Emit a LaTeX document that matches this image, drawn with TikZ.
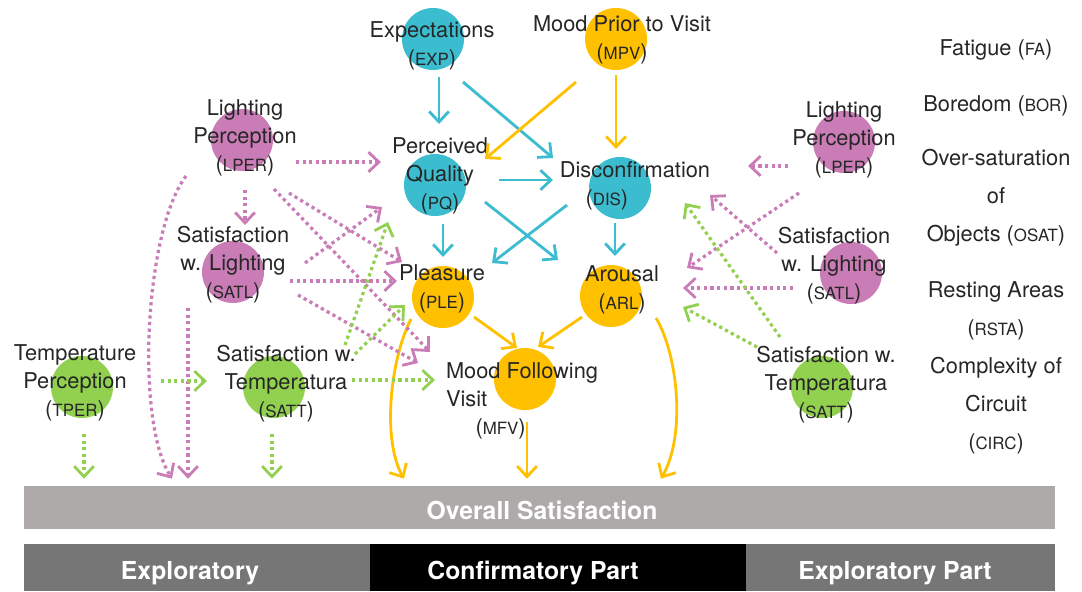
\documentclass[tikz,border=0pt]{standalone}
\usepackage{fontspec}
\setmainfont{TeX Gyre Heros}
\usepackage{tikz}
\usetikzlibrary{arrows.meta,calc,positioning}
\definecolor{confcol}{RGB}{60,188,207}
\definecolor{moodcol}{RGB}{255,192,0}
\definecolor{lightcol}{RGB}{202,124,182}
\definecolor{tempcol}{RGB}{146,208,80}
\definecolor{txtcol}{RGB}{38,38,38}
\definecolor{barcol}{RGB}{174,170,170}
\definecolor{explcol}{RGB}{118,118,118}
\newcommand{\abv}[1]{{\fontsize{12}{12}\selectfont #1}}

\begin{document}
\begin{tikzpicture}[x=0.025cm,y=-0.025cm,font=\fontsize{15.5}{20}\selectfont,text=txtcol,
  var/.style={circle,minimum size=1.55cm,inner sep=0pt},
  lab/.style={align=center,inner sep=0pt},
  list/.style={align=center,inner sep=0pt,font=\fontsize{15.5}{27}\selectfont},
  conn/.style={line width=2pt,-{Straight Barb[length=7.5pt,width=14pt]}},
  dotconn/.style={line width=2.3pt,dash pattern=on 2.3pt off 2.4pt,-{Straight Barb[length=7.5pt,width=14pt,line width=2pt]}},
  bartext/.style={text=white,font=\bfseries\fontsize{17.6}{20}\selectfont}]
\useasboundingbox (0,0) rectangle (1082,591);
% constructs
\node[var,fill=confcol] (exp) at (433,39) {};
\node[var,fill=moodcol] (mpv) at (616,39) {};
\node[var,fill=confcol] (pq) at (435,185) {};
\node[var,fill=confcol] (dis) at (620,188) {};
\node[var,fill=moodcol] (ple) at (443,297) {};
\node[var,fill=moodcol] (arl) at (611,296) {};
\node[var,fill=moodcol] (mfv) at (525,379) {};
\node[var,fill=lightcol] (lper) at (242,140) {};
\node[var,fill=lightcol] (satl) at (233,272) {};
\node[var,fill=tempcol] (tper) at (82,387) {};
\node[var,fill=tempcol] (satt) at (274,387) {};
\node[var,fill=lightcol] (lper-r) at (844,142) {};
\node[var,fill=lightcol] (satl-r) at (851,273) {};
\node[var,fill=tempcol] (satt-r) at (822,387) {};
% names
\node[lab] (exp-l) at (432,46) {Expectations\\(\abv{EXP})};
\node[lab] (mpv-l) at (622,40) {Mood Prior to Visit\\(\abv{MPV})};
\node[lab] (pq-l) at (440,176) {Perceived\\Quality\\(\abv{PQ})};
\node[lab] (dis-l) at (635,186) {Disconfirmation\\\hspace*{-40pt}(\abv{DIS})};
\node[lab] (ple-l) at (442,289) {Pleasure\\(\abv{PLE})};
\node[lab] (arl-l) at (622,290) {Arousal\\(\abv{ARL})};
\node[lab,align=left] (mfv-l) at (522,401) {Mood Following\\Visit\\\hspace*{21pt}(\abv{MFV})};
\node[lab] (lper-l) at (245,138) {Lighting\\Perception\\(\abv{LPER})};
\node[lab] (satl-l) at (233,265) {Satisfaction\\w. Lighting\\(\abv{SATL})};
\node[lab] (tper-l) at (75,383) {Temperature\\Perception\\(\abv{TPER})};
\node[lab] (satt-l) at (286,384) {Satisfaction w.\\Temperatura\\(\abv{SATT})};
\node[lab] (lper-rl) at (844,140) {Lighting\\Perception\\(\abv{LPER})};
\node[lab] (satl-rl) at (834,266) {Satisfaction\\w. Lighting\\(\abv{SATL})};
\node[lab] (satt-rl) at (826,385) {Satisfaction w.\\Temperatura\\(\abv{SATT})};
% not modelled
\node[lab] (fa) at (996,50) {Fatigue (\abv{FA})};
\node[lab] (bor) at (996,106) {Boredom (\abv{BOR})};
\node[list] (osat) at (996,198) {Over-saturation\\of\\Objects (\abv{OSAT})};
\node[list] (rsta) at (996,311) {Resting Areas\\(\abv{RSTA})};
\node[list] (circ) at (996,406) {Complexity of\\Circuit\\(\abv{CIRC})};
% bars
\node[fill=barcol,inner sep=0pt,minimum width=25.775cm,minimum height=1.075cm] (overall) at (539.5,507.5) {};
\node[bartext] (overall-t) at (542,510) {Overall Satisfaction};
\node[fill=explcol,inner sep=0pt,minimum width=8.65cm,minimum height=1.175cm] (expl) at (197,567.5) {};
\node[fill=black,inner sep=0pt,minimum width=9.4cm,minimum height=1.175cm] (conf) at (558,567.5) {};
\node[fill=explcol,inner sep=0pt,minimum width=7.725cm,minimum height=1.175cm] (expl-r) at (900.5,567.5) {};
\node[bartext] (expl-t) at (190,573) {Exploratory};
\node[bartext] (conf-t) at (533,573) {Confirmatory Part};
\node[bartext] (expl-rt) at (895,573) {Exploratory Part};
% confirmatory paths
\draw[conn,confcol] ($(exp)+(6,38)$) -- ($(pq)+(4,-61)$);
\draw[conn,confcol] ($(exp)+(30,43)$) -- ($(dis)+(-67,-30)$);
\draw[conn,confcol] ($(pq)+(64,-5)$) -- ($(dis)+(-67,-8)$);
\draw[conn,confcol] ($(pq)+(8,39)$) -- ($(ple)+(0,-40)$);
\draw[conn,confcol] ($(pq)+(50,17)$) -- ($(arl)+(-53,-36)$);
\draw[conn,confcol] ($(dis)+(-53,17)$) -- ($(ple)+(49,-34)$);
\draw[conn,confcol] ($(dis)+(-5,35)$) -- ($(arl)+(4,-40)$);
\draw[conn,moodcol] ($(mpv)+(-40,43)$) -- ($(pq)+(50,-26)$);
\draw[conn,moodcol] ($(mpv)+(0,36)$) -- ($(dis)+(-4,-39)$);
\draw[conn,moodcol] ($(ple)+(31,20)$) -- ($(mfv)+(-8,-31)$);
\draw[conn,moodcol] ($(arl)+(-29,21)$) -- ($(mfv)+(13,-32)$);
\draw[conn,moodcol] ($(mfv)+(2,43)$) -- ($(mfv|-overall.north)+(2,-7)$);
\draw[conn,moodcol] ($(ple)+(-32,22)$) .. controls ($(ple)+(-53,63)$) and ($(ple)+(-61,143)$) .. ($(ple|-overall.north)+(-39,-7)$);
\draw[conn,moodcol] ($(arl)+(45,22)$) .. controls ($(arl)+(67,59)$) and ($(arl)+(75,139)$) .. ($(arl|-overall.north)+(50,-7)$);
% exploratory, left
\draw[dotconn,lightcol] ($(lper)+(54,22)$) -- ($(pq)+(-54,-23)$);
\draw[dotconn,lightcol] ($(lper)+(3,50)$) -- ($(satl)+(12,-47)$);
\draw[dotconn,lightcol] ($(lper)+(47,53)$) -- ($(ple)+(-41,-35)$);
\draw[dotconn,lightcol] ($(lper)+(32,49)$) -- ($(mfv)+(-95,-27)$);
\draw[dotconn,lightcol] ($(satl)+(65,23)$) -- ($(mfv)+(-107,-16)$);
\draw[dotconn,lightcol] ($(satl)+(72,-9)$) -- ($(pq)+(-53,22)$);
\draw[dotconn,lightcol] ($(satl)+(57,9)$) -- ($(ple)+(-46,-16)$);
\draw[dotconn,lightcol] ($(satl)+(-45,36)$) -- ($(satl|-overall.north)+(-45,-7)$);
\draw[dotconn,lightcol] ($(lper)+(-56,36)$) .. controls ($(lper)+(-97,90)$) and ($(lper)+(-107,280)$) .. ($(lper|-overall.north)+(-70,-7)$);
\draw[dotconn,tempcol] ($(tper)+(79,-6)$) -- ($(satt)+(-67,-6)$);
\draw[dotconn,tempcol] ($(tper)+(2,47)$) -- ($(tper|-overall.north)+(2,-7)$);
\draw[dotconn,tempcol] ($(satt)+(-2,47)$) -- ($(satt|-overall.north)+(-2,-7)$);
\draw[dotconn,tempcol] ($(satt)+(71,-42)$) -- ($(pq)+(-47,37)$);
\draw[dotconn,tempcol] ($(satt)+(81,-33)$) -- ($(ple)+(-38,8)$);
\draw[dotconn,tempcol] ($(satt)+(78,-7)$) -- ($(mfv)+(-90,1)$);
% exploratory, right
\draw[dotconn,lightcol] ($(lper-r)+(-56,24)$) -- ($(dis)+(128,-22)$);
\draw[dotconn,lightcol] ($(lper-r)+(-45,51)$) -- ($(arl)+(76,-28)$);
\draw[dotconn,lightcol] ($(satl-r)+(-74,-20)$) -- ($(dis)+(90,7)$);
\draw[dotconn,lightcol] ($(satl-r)+(-58,15)$) -- ($(arl)+(72,-8)$);
\draw[dotconn,tempcol] ($(satt-r)+(-42,-50)$) -- ($(dis)+(65,15)$);
\draw[dotconn,tempcol] ($(satt-r)+(-65,-40)$) -- ($(arl)+(72,11)$);
\end{tikzpicture}
\end{document}
